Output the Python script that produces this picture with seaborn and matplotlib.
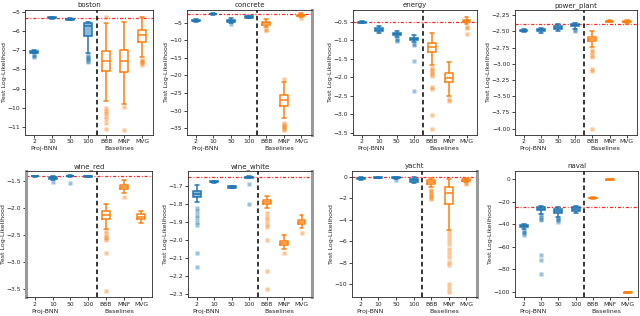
import numpy as np
import pandas as pd
import matplotlib
matplotlib.use("Agg")
import matplotlib.pyplot as plt
import seaborn as sns
from matplotlib.colors import to_rgba

sns.set_style("ticks")
plt.rcParams['font.family'] = ['DejaVu Sans']

models = ["2", "10", "50", "100", "BBB", "MNF", "MVG"]
groups = ["Proj-BNN", "Proj-BNN", "Proj-BNN", "Proj-BNN", "Baselines", "Baselines", "Baselines"]
panel_names = ["boston", "concrete", "energy", "power_plant",
               "wine_red", "wine_white", "yacht", "naval"]

# ---------------- data (test log-likelihood samples per model) ----------------
boston = [
    [-7.00, -7.02, -7.03, -7.04, -7.05, -7.06, -7.07, -7.075, -7.08, -7.09, -7.10, -7.11, -7.12, -7.15, -7.24, -7.28, -7.33],
    [-5.25, -5.28, -5.30, -5.32, -5.35],
    [-5.33, -5.36, -5.38, -5.40, -5.44],
    [-5.55, -5.56, -5.57, -5.58, -5.58, -5.59, -5.59, -5.60, -5.62, -5.64, -5.66, -5.68, -5.69, -5.70, -5.72,
     -5.80, -5.90, -6.00, -6.08, -6.15, -6.20, -6.25, -7.15, -7.25, -7.33, -7.40, -7.48, -7.55, -7.63],
    [-5.25, -5.6, -6.0, -6.3, -6.5, -6.7, -6.85, -6.95, -7.06, -7.12, -7.2, -7.28, -7.35, -7.42, -7.48, -7.52, -7.55,
     -7.6, -7.68, -7.75, -7.82, -7.9, -7.98, -8.05, -8.10, -9.65, -10.0, -10.15, -10.3, -10.45, -10.6, -10.8, -11.1],
    [-5.55, -6.2, -6.7, -7.0, -7.2, -7.4, -7.55, -7.75, -7.95, -8.15, -9.8, -9.95, -11.15],
    [-5.26, -5.5, -5.65, -5.75, -5.82, -5.88, -5.94, -6.0, -6.05, -6.1, -6.14, -6.17, -6.2,
     -6.27, -6.33, -6.4, -6.45, -6.5, -6.55, -7.35, -7.5, -7.55, -7.6, -7.68, -7.75],
]
concrete = [
    [-3.9, -4.2, -4.4, -4.6, -4.9],
    [-2.3, -2.45, -2.55, -2.65, -2.8],
    [-3.8, -4.0, -4.2, -4.35, -4.45, -4.55, -4.7, -5.0, -5.5],
    [-3.0, -3.2, -3.4, -3.55, -3.8],
    [-3.9, -4.2, -4.5, -4.7, -4.9, -5.05, -5.2, -5.35, -5.5, -5.6, -6.2, -7.0, -7.2],
    [-20.9, -21.9, -23.0, -23.8, -24.5, -25.0, -25.4, -25.7, -25.9, -26.1, -26.3, -26.5, -26.65, -26.8, -26.9,
     -27.2, -27.5, -27.8, -28.1, -28.4, -28.6, -28.8, -32.0, -33.6, -34.0, -34.4, -34.8, -35.2, -35.6],
    [-2.2, -2.5, -2.7, -2.8, -2.9, -3.0, -3.1, -3.5, -3.8],
]
energy = [
    [-0.49, -0.505, -0.515, -0.525, -0.54],
    [-0.62, -0.68, -0.72, -0.75, -0.80],
    [-0.74, -0.76, -0.78, -0.79, -0.80, -0.81, -0.82, -0.825, -0.83, -0.84, -0.85, -0.855, -0.86, -0.9, -0.96, -0.99, -1.01],
    [-0.86, -0.88, -0.9, -0.91, -0.92, -0.93, -0.94, -0.95, -0.96, -0.965, -0.97, -0.98, -0.985, -0.99, -0.995, -1.0,
     -1.05, -1.11, -1.14, -1.57, -2.36],
    [-0.81, -0.85, -0.9, -0.93, -0.96, -0.98, -1.0, -1.02, -1.03, -1.05, -1.06,
     -1.07, -1.08, -1.09, -1.1, -1.11, -1.12, -1.14, -1.15, -1.17, -1.18,
     -1.19, -1.2, -1.21, -1.23, -1.24, -1.26, -1.27, -1.29, -1.3, -1.31,
     -1.68, -1.75, -1.8, -1.85, -1.9, -1.97, -2.27, -2.33, -3.02, -3.4],
    [-1.58, -1.7, -1.8, -1.89, -1.94, -1.98, -2.02, -2.06, -2.1, -2.14, -2.5, -2.58, -2.63],
    [-0.36, -0.39, -0.41, -0.43, -0.44, -0.45, -0.46, -0.465, -0.47, -0.48, -0.49, -0.495, -0.5, -0.56, -0.63, -0.66, -0.83],
]
power_plant = [
    [-2.47, -2.48, -2.49, -2.50, -2.515],
    [-2.44, -2.47, -2.485, -2.50, -2.53],
    [-2.39, -2.42, -2.44, -2.46, -2.49],
    [-2.37, -2.375, -2.38, -2.385, -2.39, -2.395, -2.40, -2.41, -2.415, -2.42, -2.46, -2.48, -2.5],
    [-2.5, -2.52, -2.54, -2.55, -2.56, -2.57, -2.575, -2.58, -2.585,
     -2.59, -2.595, -2.6, -2.605, -2.61, -2.613, -2.617, -2.62,
     -2.625, -2.628, -2.632, -2.636, -2.64, -2.643, -2.647, -2.65,
     -2.74, -2.78, -2.82, -2.86, -2.9, -3.08, -3.11, -4.0],
    [-2.33, -2.34, -2.345, -2.35, -2.36],
    [-2.32, -2.34, -2.35, -2.36, -2.385],
]
wine_red = [
    [-1.40, -1.405, -1.41, -1.415, -1.42],
    [-1.41, -1.42, -1.43, -1.44, -1.45, -1.455, -1.46, -1.48, -1.51],
    [-1.395, -1.40, -1.405, -1.408, -1.41, -1.412, -1.415, -1.42, -1.53],
    [-1.405, -1.41, -1.415, -1.42, -1.425],
    [-1.92, -1.95, -1.97, -1.99, -2.0, -2.02, -2.03, -2.04, -2.05,
     -2.06, -2.07, -2.08, -2.09, -2.1, -2.11, -2.12, -2.13,
     -2.14, -2.15, -2.16, -2.17, -2.18, -2.185, -2.19, -2.20,
     -2.39, -2.43, -2.48, -2.53, -2.56, -2.6, -2.83, -3.54],
    [-1.48, -1.53, -1.575, -1.59, -1.61, -1.63, -1.655, -1.72, -1.79],
    [-2.055, -2.12, -2.16, -2.20, -2.28],
]
wine_white = [
    [-1.697, -1.70, -1.705, -1.71, -1.715, -1.718, -1.72, -1.723, -1.726, -1.728,
     -1.73, -1.732, -1.734, -1.736, -1.738, -1.74, -1.742, -1.744, -1.745,
     -1.747, -1.749, -1.75, -1.752, -1.754, -1.756, -1.757, -1.759, -1.76,
     -1.79, -1.82, -1.84, -1.86, -1.88, -1.9, -1.915, -2.075, -2.15],
    [-1.672, -1.674, -1.676, -1.678, -1.681],
    [-1.70, -1.703, -1.706, -1.709, -1.712],
    [-1.645, -1.647, -1.648, -1.65, -1.652, -1.654, -1.656, -1.69, -1.80],
    [-1.755, -1.76, -1.765, -1.768, -1.77, -1.772, -1.775, -1.777, -1.779, -1.78,
     -1.781, -1.782, -1.783, -1.784, -1.785, -1.786, -1.787, -1.789, -1.79,
     -1.791, -1.792, -1.793, -1.794, -1.795, -1.796, -1.797, -1.799, -1.80,
     -1.825, -1.85, -1.87, -1.89, -1.91, -1.93, -2.0, -2.17, -2.275],
    [-1.975, -1.99, -2.005, -2.01, -2.017, -2.023, -2.03, -2.05, -2.072],
    [-1.86, -1.88, -1.89, -1.895, -1.90, -1.905, -1.91, -1.935, -1.96],
]
yacht = [
    [0.0, -0.07, -0.12, -0.17, -0.25],
    [0.0, -0.03, -0.06, -0.09, -0.13],
    [0.03, 0.0, -0.02, -0.04, -0.06, -0.08, -0.1, -0.18, -0.32],
    [-0.05, -0.1, -0.15, -0.22, -0.3, -0.38, -0.45, -0.5, -0.55],
    [-0.1, -0.13, -0.15, -0.17, -0.19, -0.21, -0.22, -0.24, -0.25,
     -0.28, -0.3, -0.33, -0.36, -0.39, -0.41, -0.43, -0.45,
     -0.47, -0.5, -0.52, -0.54, -0.56, -0.58, -0.6, -0.62,
     -0.95, -1.2, -1.35, -1.5, -1.65, -1.8, -1.95, -2.1],
    [-0.15, -0.3, -0.4, -0.5, -0.58, -0.65, -0.7, -0.75, -0.8, -0.84, -0.88, -0.91, -0.94, -0.96,
     -1.0, -1.04, -1.08, -1.12, -1.16, -1.2, -1.24, -1.28, -1.32, -1.36, -1.4, -1.45, -1.49,
     -1.55, -1.62, -1.7, -1.78, -1.86, -1.94, -2.02, -2.1, -2.2, -2.3, -2.4, -2.5, -2.57,
     -4.95, -5.1, -5.5, -5.9, -6.3, -6.7, -7.1, -7.5, -7.9, -8.2, -10.0, -10.4, -10.7],
    [-0.08, -0.12, -0.16, -0.2, -0.23, -0.25, -0.27, -0.3, -0.33, -0.35, -0.5, -0.6, -0.65],
]
naval = [
    [-39.6, -39.9, -40.1, -40.3, -40.4, -40.5, -40.7, -40.9, -41.1, -41.3, -41.5,
     -41.7, -41.9, -42.1, -42.3, -42.5, -44.5, -46.0, -47.0, -48.0, -49.5],
    [-24.1, -24.2, -24.3, -24.4, -24.5, -24.6, -24.65, -24.7, -24.8,
     -24.95, -25.1, -25.3, -25.45, -25.6, -25.75, -25.9, -26.0,
     -26.2, -26.4, -26.6, -26.8, -27.0, -27.2, -27.35, -27.5,
     -31.0, -32.0, -33.5, -35.0, -36.5, -67.0, -72.0, -84.0],
    [-24.7, -25.2, -25.7, -26.0, -26.3, -26.5, -26.8, -27.1, -27.4, -27.7, -28.0,
     -28.3, -28.6, -28.9, -29.2, -29.5, -33.5, -34.5, -35.5, -36.5, -37.5],
    [-24.0, -25.0, -26.5, -28.0, -30.0],
    [-16.0, -16.4, -16.7, -17.0, -17.4],
    [0.4, 0.2, 0.0, -0.2, -0.4],
    [-100.0, -100.3, -100.5, -100.7, -101.0],
]
panel_data = [boston, concrete, energy, power_plant, wine_red, wine_white, yacht, naval]

# reference (red dotted) level per panel
ref_levels = [-5.33, -2.6, -0.5, -2.385, -1.41, -1.648, -0.05, -24.7]

y_limits = [(-11.4, -4.9), (-36.8, -1.4), (-3.55, -0.18), (-4.09, -2.17),
            (-3.65, -1.315), (-2.317, -1.617), (-11.2, 0.55), (-104.5, 7.4)]
y_ticks = [
    [-11, -10, -9, -8, -7, -6, -5],
    [-35, -30, -25, -20, -15, -10, -5],
    [-3.5, -3.0, -2.5, -2.0, -1.5, -1.0, -0.5],
    [-4.0, -3.75, -3.5, -3.25, -3.0, -2.75, -2.5, -2.25],
    [-3.5, -3.0, -2.5, -2.0, -1.5],
    [-2.3, -2.2, -2.1, -2.0, -1.9, -1.8, -1.7],
    [-10, -8, -6, -4, -2, 0],
    [-100, -80, -60, -40, -20, 0],
]

# axes rectangles in pixels (left, top, right, bottom)
W, H = 640, 316
rects_px = [(25, 10, 153, 134.5), (187, 10, 312, 134.5), (353, 10, 477, 134.5), (515, 10, 637, 134.5),
            (26, 171, 152, 297), (188, 171, 312, 297), (352, 171, 477, 297), (515, 171, 638, 297)]
# panels whose frame edge shows a heavy grey bar in the reference
heavy_edges = {"concrete": "right", "wine_white": "right", "wine_red": "left", "yacht": "right"}

BLUE = "#1f77b4"
ORANGE = "#ff7f0e"

fig = plt.figure(figsize=(6.4, 3.16), dpi=100)

for name, pdata, ref, ylim, yt, (l, t, r, b) in zip(panel_names, panel_data, ref_levels,
                                                      y_limits, y_ticks, rects_px):
    ax = fig.add_axes([l / W, 1 - b / H, (r - l) / W, (b - t) / H])
    rows = []
    for m, g, vals in zip(models, groups, pdata):
        for v in vals:
            rows.append((m, g, v))
    df = pd.DataFrame(rows, columns=["model", "group", "value"])

    blue_df = df[df["group"] == "Proj-BNN"]
    orange_df = df[df["group"] == "Baselines"]

    sns.boxplot(data=blue_df, x="model", y="value", order=models, ax=ax,
                color=BLUE, saturation=1, fill=True, linecolor=BLUE, linewidth=1.1,
                width=0.45,
                boxprops=dict(facecolor=to_rgba(BLUE, 0.5)),
                flierprops=dict(marker="s", markersize=3.2, markerfacecolor=BLUE,
                                markeredgecolor="none", alpha=0.45))
    sns.boxplot(data=orange_df, x="model", y="value", order=models, ax=ax,
                color=ORANGE, saturation=1, fill=False, linewidth=1.1,
                width=0.45,
                flierprops=dict(marker="s", markersize=3.2, markerfacecolor=ORANGE,
                                markeredgecolor="none", alpha=0.45))

    ax.axhline(ref, color="red", lw=0.9, alpha=0.85, ls=(0, (2.5, 1.5, 0.8, 1.5)), zorder=0.5)
    ax.axvline(3.5, color="black", lw=1.1, ls=(0, (3, 2)))

    ax.set_xlim(-0.5, 6.6)
    ax.set_ylim(*ylim)
    ax.set_yticks(yt)
    ax.set_xlabel("")
    ax.set_ylabel("Test Log-Likelihood", fontsize=4.5, labelpad=0.5)
    ax.set_title(name, fontsize=5, pad=2)
    ax.tick_params(axis="both", labelsize=4.3, length=2, width=0.6, pad=1.5)
    for sp in ax.spines.values():
        sp.set_linewidth(0.6)
    if name in heavy_edges:
        ax.spines[heavy_edges[name]].set_linewidth(2.2)
        ax.spines[heavy_edges[name]].set_color("#9a9a9a")
    xt = ax.get_xaxis_transform()
    ax.annotate("Proj-BNN", xy=(0.55, 0), xycoords=xt, xytext=(0, -10.4),
                textcoords="offset points", ha="center", va="center", fontsize=4.5)
    ax.annotate("Baselines", xy=(4.75, 0), xycoords=xt, xytext=(0, -10.4),
                textcoords="offset points", ha="center", va="center", fontsize=4.5)

fig.savefig("out.png", dpi=100)
